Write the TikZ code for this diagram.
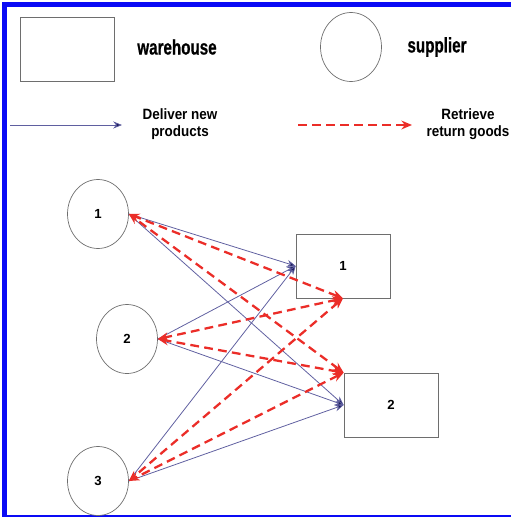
\documentclass[tikz,border=0pt]{standalone}
\usepackage{fontspec}
\setmainfont{Liberation Sans}
\newfontfamily\condfont[FakeStretch=0.72,FakeBold=0.6]{Liberation Sans}
\newfontfamily\notefont[FakeStretch=0.9]{Liberation Sans}
\usetikzlibrary{arrows.meta,shapes.geometric}
\definecolor{frameblue}{RGB}{10,10,245}
\definecolor{edgegray}{RGB}{110,110,110}
\definecolor{delivercol}{RGB}{95,95,160}
\definecolor{tipnavy}{RGB}{25,25,90}
\definecolor{retcol}{RGB}{235,45,40}
\begin{document}
\begin{tikzpicture}[x=0.02cm,y=-0.02cm,
  depot/.style={draw=edgegray,minimum width=1.88cm,minimum height=1.28cm,font=\bfseries\fontsize{7.5}{8}\selectfont},
  supp/.style={ellipse,draw=edgegray,minimum width=1.22cm,minimum height=1.38cm,inner sep=0pt,font=\bfseries\fontsize{7.5}{8}\selectfont},
  legtxt/.style={font=\condfont\bfseries\fontsize{12}{14}\selectfont},
  notetxt/.style={align=center,font=\notefont\bfseries\fontsize{8.5}{10}\selectfont},
  deliver/.style={draw=delivercol,line width=0.45pt,-{Stealth[length=5pt,width=4pt,fill=tipnavy]}},
  retrieve/.style={draw=retcol,line width=1.3pt,dash pattern=on 5pt off 3pt}]
  \useasboundingbox (0,0) rectangle (511,518);
  \fill[frameblue] (2,2) rectangle (511,7);
  \fill[frameblue] (2,2) rectangle (7,517);
  \fill[frameblue] (2,515) rectangle (511,517);
  \node[depot] (legw) at (67,49) {};
  \node[legtxt] (legwtxt) at (177,47) {warehouse};
  \node[supp] (legs) at (351,47) {};
  \node[legtxt] (legstxt) at (437,47) {supplier};
  \coordinate (d0) at (10,125); \coordinate (d1) at (122,125);
  \draw[deliver] (d0) -- (d1);
  \node[notetxt] (dtxt) at (180,124) {Deliver new\\products};
  \coordinate (r0) at (298,125); \coordinate (r1) at (412,125);
  \draw[retrieve,-{Stealth[length=6pt,width=5pt]}] (r0) -- (r1);
  \node[notetxt] (rtxt) at (468,124) {Retrieve\\return goods};
  \foreach \n/\x/\y in {1/98/214,2/127/339,3/98/481} \node[supp] (s\n) at (\x,\y) {\n};
  \node[depot] (w1) at (343,266) {1};
  \node[depot] (w2) at (391,405) {2};
  \foreach \s in {1,2,3} {
    \draw[deliver] (s\s.east) -- (w1.west);
    \draw[deliver] (s\s.east) -- (w2.west);
  }
  \foreach \s in {1,2,3} {
    \draw[retrieve,{Stealth[length=6pt,width=5pt]}-{Stealth[length=6pt,width=5pt]}] (w1.south) -- (s\s.east);
    \draw[retrieve,{Stealth[length=6pt,width=5pt]}-{Stealth[length=6pt,width=5pt]}] (w2.north west) -- (s\s.east);
  }
\end{tikzpicture}
\end{document}
